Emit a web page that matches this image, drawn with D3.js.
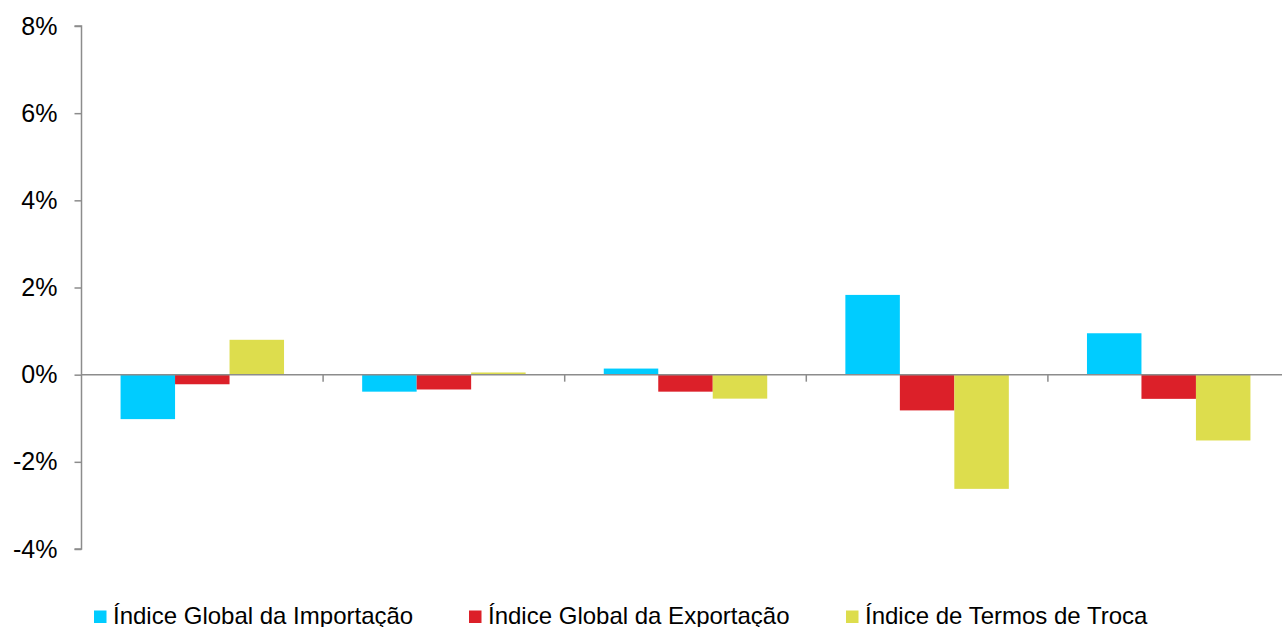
<!DOCTYPE html>
<html><head><meta charset="utf-8">
<script src="https://cdn.jsdelivr.net/npm/d3@7"></script>
<style>body{margin:0;background:#fff;} svg{display:block;} text{font-family:"Liberation Sans",Arial,sans-serif;fill:#000;}</style>
</head><body>
<svg id="c" width="1282" height="627"></svg>
<script>
const categories = ["1", "2", "3", "4", "5"];
const seriesNames = ["Índice Global da Importação", "Índice Global da Exportação", "Índice de Termos de Troca"];
const importacao = [-1.02, -0.39, 0.14, 1.83, 0.95];
const exportacao = [-0.22, -0.34, -0.39, -0.82, -0.555];
const termosTroca = [0.80, 0.05, -0.55, -2.62, -1.51];
const yTicks = [-4, -2, 0, 2, 4, 6, 8];
const colors = ["#00CCFF", "#DC2029", "#DDDD4D"];

(function () {
const seriesValues = [importacao, exportacao, termosTroca];
const svg = d3.select("#c");
const plotLeft = 81.5, plotRight = 1289.5, plotTop = 26, plotBottom = 549;

const x0 = d3.scaleBand().domain(categories).range([plotLeft, plotRight]).padding(0);
const x1 = d3.scaleBand().domain(d3.range(seriesNames.length)).range([0, x0.bandwidth()]).paddingInner(0).paddingOuter(0.717);
const y = d3.scaleLinear().domain([-4, 8]).range([plotBottom, plotTop]);

// bars
categories.forEach((c, ci) => {
  seriesValues.forEach((vals, si) => {
    const v = vals[ci];
    svg.append("rect")
      .attr("x", x0(c) + x1(si))
      .attr("width", x1.bandwidth())
      .attr("y", y(Math.max(0, v)))
      .attr("height", Math.abs(y(v) - y(0)))
      .attr("fill", colors[si]);
  });
});

// y axis
const yAxis = d3.axisLeft(y).tickValues(yTicks).tickSize(7).tickPadding(17).tickFormat(d => d + "%");
const gy = svg.append("g").attr("transform", `translate(${plotLeft},0)`).call(yAxis);
gy.select(".domain").attr("stroke", "#8c8c8c").attr("stroke-width", 1.5).attr("d", `M-7,${y(8)}H0V${y(-4)}H-7`);
gy.selectAll(".tick line").attr("stroke", "#8c8c8c").attr("stroke-width", 1.5);
gy.selectAll(".tick text").style("font-size", "25px").attr("fill", "#000");

// x axis at zero
const xAxis = d3.axisBottom(x0).tickSize(0).tickFormat("");
const gx = svg.append("g").attr("transform", `translate(0,${y(0)})`).call(xAxis);
gx.select(".domain").attr("stroke", "#8c8c8c").attr("stroke-width", 1.5).attr("d", `M${plotLeft},0H1282`);
gx.selectAll(".tick").remove();
categories.slice(1).forEach(c => {
  gx.append("line").attr("x1", x0(c)).attr("x2", x0(c)).attr("y1", 0).attr("y2", 7)
    .attr("stroke", "#8c8c8c").attr("stroke-width", 1.5);
});

// legend
const legendX = [94, 469, 846];
seriesNames.forEach((n, i) => {
  const g = svg.append("g").attr("transform", `translate(${legendX[i]},0)`);
  g.append("rect").attr("x", 0).attr("y", 610.5).attr("width", 12.5).attr("height", 12.5).attr("fill", colors[i]);
  g.append("text").attr("x", 19).attr("y", 624).style("font-size", "24px").text(n);
});
})();
</script>
</body></html>
